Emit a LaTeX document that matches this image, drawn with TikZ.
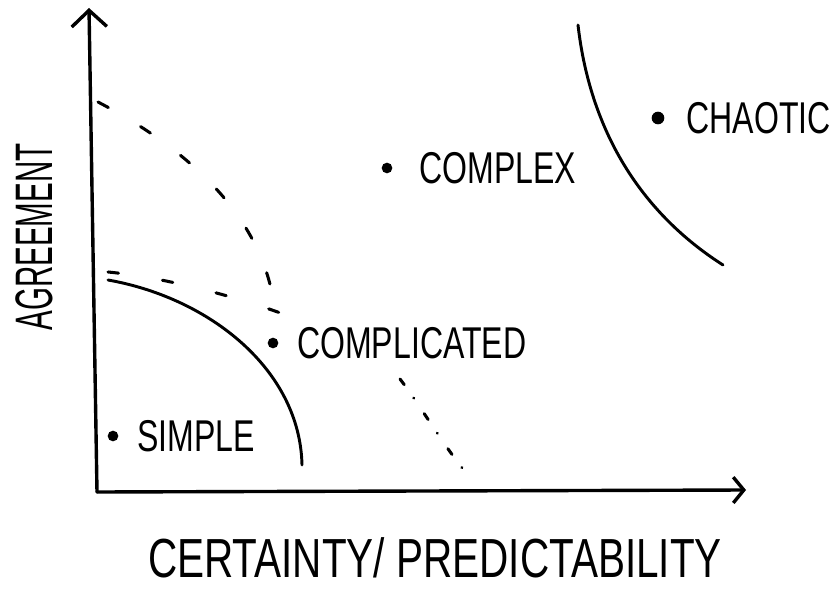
\documentclass[tikz,border=0pt]{standalone}
\usepackage{fontspec}
\newfontfamily\handfont[FakeStretch=0.72]{Liberation Sans}
\newfontfamily\xaxisfont[FakeStretch=0.735]{Liberation Sans}
\newfontfamily\yaxisfont[FakeStretch=0.56]{Liberation Sans}
\usetikzlibrary{positioning, arrows.meta}

\begin{document}
\begin{tikzpicture}[
  x=0.03cm, y=-0.03cm,
  axis/.style={line width=2.9pt, line cap=round, line join=round},
  boundary/.style={line width=2.5pt, line cap=round},
  zone/.style={line width=2.6pt, line cap=round, dash pattern=on 10pt off 32pt},
  zonedot/.style={line width=2.6pt, line cap=round, dash pattern=on 6pt off 14pt on 0.1pt off 16pt},
  dot/.style={circle, fill=black, inner sep=0pt, minimum size=0.32cm},
  lbl/.style={inner sep=0pt, font=\handfont\fontsize{38}{40}\selectfont},
  axislbl/.style={inner sep=0pt},
]

% --- Frame ---
\useasboundingbox (0,0) rectangle (831,589);

% --- Axes ---
\coordinate (origin) at (97,492);
\coordinate (ytip) at (89,8);
\coordinate (xtip) at (746,490);
\draw[axis, -{Straight Barb[length=14pt, width=30pt]}] (origin) -- (ytip);
\draw[axis, -{Straight Barb[length=9pt, width=22pt]}] (origin) -- (xtip);

\node[axislbl, font=\xaxisfont\fontsize{47}{49}\selectfont] (xlabel) at (435,558)
  {CERTAINTY/ PREDICTABILITY};
\node[axislbl, rotate=90, font=\yaxisfont\fontsize{45}{47}\selectfont] (ylabel) at (34,237)
  {AGREEMENT};

% --- Boundaries ---
\draw[boundary] (108,280) .. controls (210,298) and (300,370) .. (302,465);
\draw[boundary] (578,25) .. controls (590,130) and (640,212) .. (723,265);

% dashed zone limits
\draw[zone] (98,102) .. controls (190,150) and (258,215) .. (273,298);
\draw[zone, dash pattern=on 9pt off 38pt] (108,272) .. controls (170,278) and (250,300) .. (304,322);
\draw[zonedot] (400,379) .. controls (420,405) and (440,440) .. (463,469);

% --- Domains ---
\node[dot] (simple) at (113,436) {};
\node[lbl, right=0.55cm of simple] (simplelbl) {SIMPLE};

\node[dot] (complicated) at (273,343) {};
\node[lbl, right=0.55cm of complicated] (complicatedlbl) {COMPLICATED};

\node[dot] (complex) at (387,168) {};
\node[lbl, right=0.8cm of complex] (complexlbl) {COMPLEX};

\node[dot, minimum size=0.38cm] (chaotic) at (658,118) {};
\node[lbl, right=0.65cm of chaotic] (chaoticlbl) {CHAOTIC};

\end{tikzpicture}
\end{document}
